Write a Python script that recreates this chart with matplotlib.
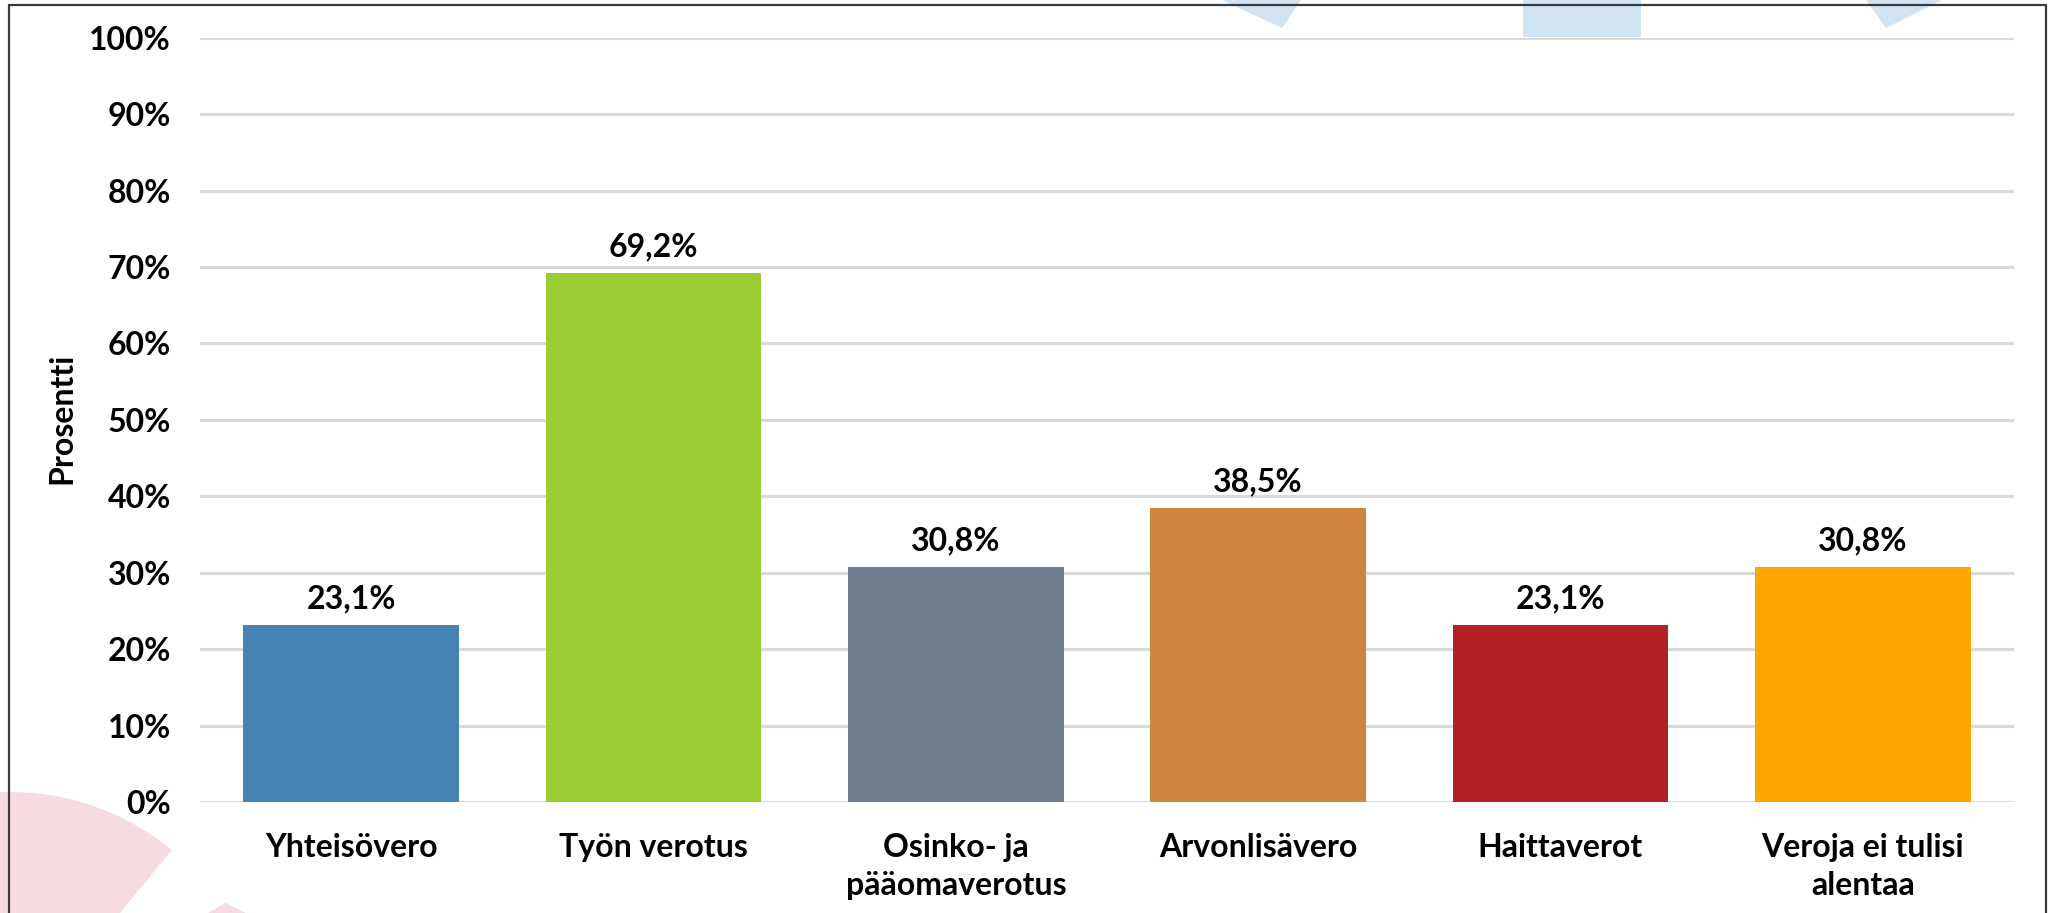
import numpy as np
import matplotlib
matplotlib.use('Agg')
import matplotlib.pyplot as plt
from matplotlib.patches import Polygon, Rectangle, Wedge

plt.rcParams['font.family'] = ['Lato', 'DejaVu Sans']
plt.rcParams['font.weight'] = 'bold'

# data
categories = ['Yhteisövero', 'Työn verotus', 'Osinko- ja\npääomaverotus',
              'Arvonlisävero', 'Haittaverot', 'Veroja ei tulisi\nalentaa']
values = [23.1, 69.2, 30.8, 38.5, 23.1, 30.8]
colors = ['#4682B4', '#9ACD32', '#708090', '#CD853F', '#B22222', '#FFA500']
yticks = [0, 10, 20, 30, 40, 50, 60, 70, 80, 90, 100]

W, H = 2052, 913
fig = plt.figure(figsize=(W / 100, H / 100), dpi=100)
fig.patch.set_facecolor('white')

# background decoration, pixel coords
bg = fig.add_axes([0, 0, 1, 1], zorder=-1)
bg.set_xlim(0, W)
bg.set_ylim(H, 0)
bg.axis('off')
blue = '#cfe3f3'
pink = '#f6dbe0'
bg.add_patch(Polygon([(1222, 0), (1301, 0), (1282, 28)], closed=True, color=blue, lw=0))
bg.add_patch(Rectangle((1523, 0), 118, 37, color=blue, lw=0))
bg.add_patch(Polygon([(1866, 0), (1942, 0), (1886, 28)], closed=True, color=blue, lw=0))
# y is inverted here, angles run clockwise on screen
bg.add_patch(Wedge((10, 1047), 255, 180, 309.4, color=pink, lw=0))
bg.add_patch(Polygon([(208, H), (225, 903), (246, H)], closed=True, color=pink, lw=0))
# frame round the slide
bg.plot([9, 9, 2046, 2046], [H + 5, 5, 5, H + 5], color='#3a3a3a', lw=1.6,
        solid_joinstyle='miter', zorder=5)

ax = fig.add_axes([200 / W, (H - 802) / H, 1814 / W, (802 - 37.7) / H])
ax.set_facecolor('none')

x = np.arange(len(categories))
ax.bar(x, values, width=0.713, color=colors, zorder=3)

for xi, v in zip(x, values):
    ax.annotate(f'{v:.1f}%'.replace('.', ','), (xi, v), xytext=(0, 12),
                textcoords='offset points', ha='center', va='baseline',
                fontsize=23, fontweight='bold', color='black')

ax.set_xlim(-0.5, len(categories) - 0.5)
ax.set_ylim(0, 100)
ax.set_yticks(yticks)
ax.set_yticklabels([f'{t}%' for t in yticks])
ax.set_xticks(x)
ax.set_xticklabels(categories, linespacing=1.38)
ax.tick_params(axis='both', length=0, labelsize=23)
ax.tick_params(axis='y', pad=21)
ax.tick_params(axis='x', pad=22)
ax.yaxis.grid(True, color='#d9d9d9', lw=2.2, zorder=0)
ax.set_axisbelow(True)
for s in ax.spines.values():
    s.set_visible(False)

fig.text(62 / W, 1 - 418 / H, 'Prosentti', rotation=90, ha='center', va='center',
         fontsize=23, fontweight='bold')

fig.savefig('out.png', dpi=100)
